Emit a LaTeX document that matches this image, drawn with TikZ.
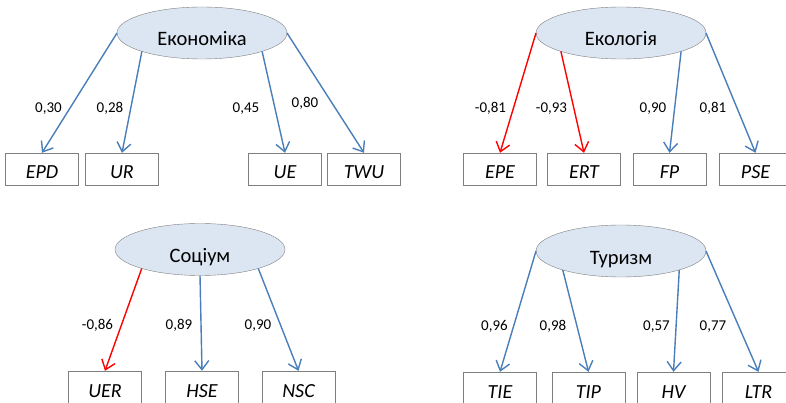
\documentclass[tikz,border=0pt]{standalone}
\usepackage{fontspec}
\setmainfont{Carlito}
\usetikzlibrary{arrows.meta,shapes.geometric}
\definecolor{lineblue}{RGB}{74,126,187}
\definecolor{ovalfill}{RGB}{220,230,242}
\definecolor{rimgray}{RGB}{127,127,127}

\begin{document}
\begin{tikzpicture}[
  x=1pt,y=-1pt,
  >={Straight Barb[length=9pt,width=14pt]},
  factor/.style={ellipse,draw=rimgray,fill=ovalfill,minimum width=170pt,minimum height=52pt,
    inner sep=0pt,outer sep=0pt,text height=26pt,text depth=0pt,font=\fontsize{20.5}{24}\selectfont},
  ind/.style={draw=rimgray,minimum width=73pt,minimum height=32pt,inner sep=0pt,
    text height=20pt,text depth=0pt,font=\fontsize{20}{23}\selectfont\itshape},
  loadpos/.style={->,line width=1.4pt,draw=lineblue},
  loadneg/.style={->,line width=1.4pt,draw=red},
  wt/.style={anchor=base,inner sep=0pt,font=\fontsize{15}{18}\selectfont}
]
\clip (0,0) rectangle (786,403);

% Economy
\node[factor] (eco) at (202,33) {Економіка};
\node[ind] (epd) at (42,169) {EPD};
\node[ind] (ur) at (122,169) {UR};
\node[ind] (ue) at (285,169) {UE};
\node[ind] (twu) at (364,169) {TWU};
\draw[loadpos] (eco.west) -- (epd.north);
\draw[loadpos] (eco.197) -- (ur.north);
\draw[loadpos] (eco.-17) -- (ue.north);
\draw[loadpos] (eco.east) -- (twu.north);
\node[wt] (w-epd) at (48.5,113) {0,30};
\node[wt] (w-ur) at (110,113) {0,28};
\node[wt] (w-ue) at (246,113) {0,45};
\node[wt] (w-twu) at (305,108) {0,80};

% Ecology
\node[factor] (ecl) at (621,33) {Екологія};
\node[ind] (epe) at (500,169) {EPE};
\node[ind] (ert) at (584,169) {ERT};
\node[ind] (fp) at (669.5,169) {FP};
\node[ind] (pse) at (755.5,169) {PSE};
\draw[loadneg] (ecl.west) -- (epe.north);
\draw[loadneg] (ecl.197) -- (ert.north);
\draw[loadpos] (ecl.-17) -- (fp.north);
\draw[loadpos] (ecl.east) -- (pse.north);
\node[wt] (w-epe) at (490.5,113) {-0,81};
\node[wt] (w-ert) at (551.5,113) {-0,93};
\node[wt] (w-fp) at (653,113) {0,90};
\node[wt] (w-pse) at (713,113) {0,81};

% Society
\node[factor] (soc) at (200,249.5) {Соціум};
\node[ind] (uer) at (105,387) {UER};
\node[ind] (hse) at (202,387) {HSE};
\node[ind] (nsc) at (298.5,387) {NSC};
\draw[loadneg] (soc.198) -- (uer.north);
\draw[loadpos] (soc.south) -- (hse.north);
\draw[loadpos] (soc.-18) -- (nsc.north);
\node[wt] (w-uer) at (97.5,329) {-0,86};
\node[wt] (w-hse) at (179,329) {0,89};
\node[wt] (w-nsc) at (258,329) {0,90};

% Tourism
\node[factor] (tur) at (621,251) {Туризм};
\node[ind] (tie) at (500,388) {TIE};
\node[ind] (tip) at (588.5,388) {TIP};
\node[ind] (hv) at (673.5,388) {HV};
\node[ind] (ltr) at (758.5,388) {LTR};
\draw[loadpos] (tur.west) -- (tie.north);
\draw[loadpos] (tur.198) -- (tip.north);
\draw[loadpos] (tur.-18) -- (hv.north);
\draw[loadpos] (tur.east) -- (ltr.north);
\node[wt] (w-tie) at (494.5,330) {0,96};
\node[wt] (w-tip) at (553,330) {0,98};
\node[wt] (w-hv) at (656.5,330) {0,57};
\node[wt] (w-ltr) at (713,330) {0,77};
\end{tikzpicture}
\end{document}
